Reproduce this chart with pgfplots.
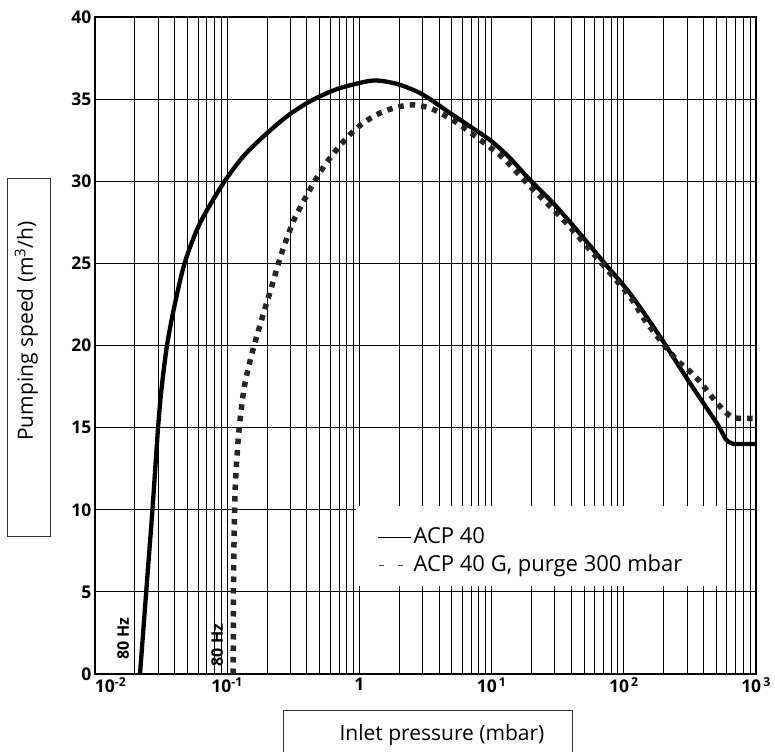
\documentclass[border=0pt]{standalone}
\usepackage{fontspec}
\setmainfont{Open Sans}
\usepackage{pgfplots}
\pgfplotsset{compat=1.18}
\pgfplotstableread{
x y
0.0219 0
0.0251 6.3
0.0272 10
0.0300 15
0.0320 17.5
0.0352 20.1
0.0403 22.57
0.048 25.1
0.0622 27.44
0.0935 29.88
0.132 31.5
0.1875 32.72
0.282 33.94
0.399 34.75
0.566 35.36
0.755 35.73
1.27 36.13
1.91 35.93
2.71 35.47
3.42 35.0
4.85 34.15
6.87 33.34
10 32.43
13.8 31.4
19.5 30.08
29.3 28.66
44 27.04
70 25.1
111 23.18
188 20.54
317 17.7
505 15.27
590 14.3
650 14.05
715 14.0
1000 14.0
}\solid
\pgfplotstableread{
x y
0.111 0
0.1115 5
0.1126 8
0.1146 11.0
0.118 13.0
0.1236 15.06
0.1346 17.46
0.153 19.43
0.182 21.56
0.217 23.59
0.258 25.62
0.316 27.55
0.366 28.56
0.423 29.5
0.489 30.37
0.566 31.15
0.693 32.05
0.85 32.85
1.07 33.55
1.43 34.15
1.91 34.5
2.56 34.65
3.42 34.45
4.44 34.0
5.77 33.43
9.18 32.22
12.3 31.4
19.5 29.7
34.9 27.65
62.4 25.35
111 22.98
141 21.66
188 20.34
251 19.12
308 18.51
377 17.8
462 16.89
550 16.18
640 15.7
720 15.57
1000 15.57
}\purge
\begin{document}
\begin{tikzpicture}
\useasboundingbox (-95pt,-77pt) rectangle (680pt,674pt);
\begin{axis}[
  scale only axis, width=661pt, height=657pt,
  xmode=log, xmin=0.01, xmax=1000, ymin=0, ymax=40,
  xtick={0.01,0.1,1,10,100,1000},
  xticklabels={\rlap{10\textsuperscript{-2}}, 10\textsuperscript{-1}, 1, 10\textsuperscript{\,1}, 10\textsuperscript{\,2}, 10\textsuperscript{\,3}},
  ytick={0,5,...,40}, yticklabels={0,5,10,15,20,25,30,35,40},
  ticklabel style={font=\fontsize{17.5}{20}\selectfont\bfseries},
  grid=both, major tick length=0pt, minor tick length=0pt,
  major grid style={black, line width=1.1pt},
  minor grid style={black, line width=0.7pt},
  axis line style={line width=1.4pt},
  legend style={at={(rel axis cs:0.4266,0.2253)}, anchor=north west, draw=none, fill=none,
    inner sep=0pt, row sep=5pt, column sep=1pt,
    font=\fontsize{22}{26}\selectfont,
    nodes={inner sep=1pt, text height=16pt, text depth=5pt}},
  legend cell align=left,
]
\fill[white] (axis cs:0.95,5.35) rectangle (axis cs:590,10.2);
\addplot[black, line width=4.3pt, smooth, tension=0.5,
  legend image code/.code={\draw[black, line width=1.4pt] (0pt,0pt) -- (33pt,0pt);}]
  table[x=x,y=y] {\solid};
\addlegendentry{ACP 40}
\addplot[black!85, line width=5.5pt, dash pattern=on 5.5pt off 6pt, smooth, tension=0.5,
  legend image code/.code={\draw[black!70, line width=1.4pt] (1pt,0pt) -- (6pt,0pt) (20pt,0pt) -- (31pt,0pt);}]
  table[x=x,y=y] {\purge};
\addlegendentry{ACP 40 G, purge 300 mbar}
\node[rotate=90, font=\fontsize{16}{18}\selectfont\bfseries] at (axis cs:0.0163,2.16) {80 Hz};
\node[rotate=90, font=\fontsize{16}{18}\selectfont\bfseries] at (axis cs:0.0838,1.77) {80 Hz};
\end{axis}
\draw[line width=0.8pt, black!80] (-88pt,138pt) rectangle (-45pt,496pt);
\node[rotate=90, anchor=base, inner sep=0pt, font=\fontsize{21}{24}\selectfont] at (-62pt,343pt) {Pumping speed (m\textsuperscript{3}/h)};
\draw[line width=0.8pt, black!80] (188pt,-80pt) -- (188pt,-36pt) -- (477pt,-36pt) -- (477pt,-80pt);
\node[anchor=base, inner sep=0pt, font=\fontsize{21}{24}\selectfont] at (347pt,-66pt) {Inlet pressure (mbar)};
\end{tikzpicture}
\end{document}
